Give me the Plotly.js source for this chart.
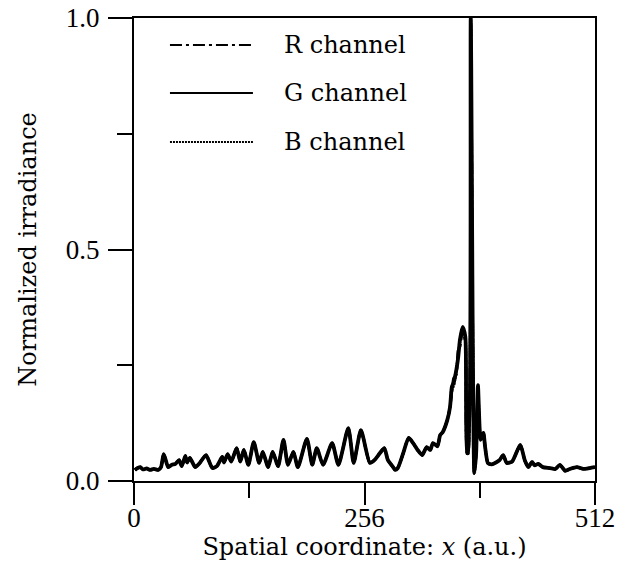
<!DOCTYPE html>
<html>
<head>
<meta charset="utf-8">
<script src="https://cdn.plot.ly/plotly-3.0.1.min.js"></script>
<style>
  html, body { margin: 0; padding: 0; background: #fff; }
  #chart { width: 633px; height: 571px; }
</style>
</head>
<body>
<div id="chart"></div>
<script>
// Spatial coordinate (a.u.) of each sample along the profile
const xCoord = [
  1, 4, 7, 10, 14, 18, 22, 27, 30, 33, 38, 42, 46, 50, 53, 57, 59, 62, 68, 73,
  80, 87, 92, 98, 100, 104, 108, 114, 118, 122, 127, 133, 139, 143, 149, 154, 160, 166, 171, 177,
  182, 192, 198, 203, 210, 220, 227, 238, 244, 252, 262, 267, 273, 278, 282, 287, 290, 293, 299, 305,
  310, 315, 320, 325, 329, 332, 337, 340, 343, 348, 351, 353, 355, 358, 360, 362, 365, 368, 370, 371,
  374, 378, 380, 382, 385, 388, 390, 393, 397, 401, 406, 410, 414, 420, 429, 434, 438, 442, 445, 449,
  454, 462, 468, 473, 479, 484, 492, 499, 506, 512
];

// Normalized irradiance per colour channel
const gValues = [
  0.024, 0.028, 0.030, 0.025, 0.027, 0.024, 0.026, 0.024, 0.030, 0.058, 0.030, 0.035, 0.037, 0.045, 0.032, 0.054, 0.040, 0.050, 0.030, 0.039,
  0.056, 0.028, 0.032, 0.052, 0.040, 0.058, 0.042, 0.071, 0.042, 0.067, 0.035, 0.084, 0.039, 0.063, 0.030, 0.063, 0.032, 0.089, 0.035, 0.063,
  0.030, 0.091, 0.035, 0.071, 0.035, 0.082, 0.035, 0.114, 0.039, 0.110, 0.039, 0.045, 0.060, 0.071, 0.045, 0.032, 0.024, 0.028, 0.060, 0.093,
  0.082, 0.067, 0.056, 0.073, 0.067, 0.082, 0.075, 0.099, 0.106, 0.132, 0.160, 0.203, 0.212, 0.240, 0.266, 0.305, 0.333, 0.311, 0.060, 0.060,
  1.000, 0.017, 0.060, 0.207, 0.089, 0.104, 0.073, 0.039, 0.036, 0.039, 0.045, 0.056, 0.039, 0.042, 0.078, 0.045, 0.030, 0.041, 0.034, 0.037,
  0.030, 0.028, 0.026, 0.035, 0.022, 0.026, 0.030, 0.026, 0.028, 0.030
];
const rValues = [
  0.024, 0.028, 0.030, 0.025, 0.027, 0.024, 0.026, 0.024, 0.030, 0.058, 0.030, 0.035, 0.037, 0.045, 0.032, 0.054, 0.040, 0.050, 0.030, 0.039,
  0.056, 0.028, 0.032, 0.052, 0.040, 0.058, 0.042, 0.071, 0.042, 0.067, 0.035, 0.084, 0.039, 0.063, 0.030, 0.063, 0.032, 0.089, 0.035, 0.063,
  0.030, 0.091, 0.035, 0.071, 0.035, 0.082, 0.035, 0.114, 0.039, 0.110, 0.039, 0.045, 0.060, 0.071, 0.045, 0.032, 0.024, 0.028, 0.060, 0.093,
  0.082, 0.067, 0.056, 0.073, 0.067, 0.082, 0.075, 0.099, 0.106, 0.132, 0.160, 0.190, 0.222, 0.230, 0.282, 0.290, 0.325, 0.300, 0.060, 0.060,
  1.000, 0.017, 0.060, 0.190, 0.100, 0.104, 0.073, 0.039, 0.036, 0.039, 0.045, 0.056, 0.039, 0.042, 0.078, 0.045, 0.030, 0.041, 0.034, 0.037,
  0.030, 0.028, 0.026, 0.035, 0.022, 0.026, 0.030, 0.026, 0.028, 0.030
];
const bValues = [
  0.024, 0.028, 0.030, 0.025, 0.027, 0.024, 0.026, 0.024, 0.030, 0.058, 0.030, 0.035, 0.037, 0.045, 0.032, 0.054, 0.040, 0.050, 0.030, 0.039,
  0.056, 0.028, 0.032, 0.052, 0.040, 0.058, 0.042, 0.071, 0.042, 0.067, 0.035, 0.084, 0.039, 0.063, 0.030, 0.063, 0.032, 0.089, 0.035, 0.063,
  0.030, 0.091, 0.035, 0.071, 0.035, 0.082, 0.035, 0.114, 0.039, 0.110, 0.039, 0.045, 0.060, 0.071, 0.045, 0.032, 0.024, 0.028, 0.060, 0.093,
  0.082, 0.067, 0.056, 0.073, 0.067, 0.082, 0.075, 0.099, 0.106, 0.132, 0.160, 0.200, 0.205, 0.240, 0.270, 0.300, 0.330, 0.311, 0.060, 0.060,
  1.000, 0.017, 0.060, 0.200, 0.092, 0.104, 0.073, 0.039, 0.036, 0.039, 0.045, 0.056, 0.039, 0.042, 0.078, 0.045, 0.030, 0.041, 0.034, 0.037,
  0.030, 0.028, 0.026, 0.035, 0.022, 0.026, 0.030, 0.026, 0.028, 0.030
];

const channelNames = ['R channel', 'G channel', 'B channel'];
const xTicks = [0, 256, 512];
const xTickText = ['0', '256', '512'];
const xMinorTicks = [128, 384];
const yTicks = [0, 0.5, 1];
const yTickText = ['0.0', '0.5', '1.0'];
const yMinorTicks = [0.25, 0.75];

const serif = '"DejaVu Serif", serif';
const tickFont = { family: '"Liberation Serif", serif', size: 27, color: '#000' };

const channelStyles = [
  { dash: '12px,4px,3px,4px', width: 2.8, legendWidth: 2 },
  { dash: 'solid', width: 3.8, legendWidth: 2.2 },
  { dash: '2px,1px', width: 2.8, legendWidth: 2 }
];
const channelSeries = [rValues, gValues, bValues];

const traces = channelSeries.map((vals, i) => ({
  type: 'scatter',
  mode: 'lines',
  name: channelNames[i],
  x: xCoord,
  y: vals,
  line: { color: '#000', width: channelStyles[i].width, dash: channelStyles[i].dash, shape: 'spline', smoothing: 0.6 },
  showlegend: false,
  hoverinfo: 'skip'
}));

// Legend drawn in paper space so the line samples can be long
const legendRows = [0.9417, 0.838, 0.7322];
const shapes = legendRows.map((yy, i) => ({
  type: 'line', xref: 'paper', yref: 'paper',
  x0: 0.078, x1: 0.258, y0: yy, y1: yy,
  line: { color: '#000', width: channelStyles[i].legendWidth, dash: channelStyles[i].dash }
}));
const annotations = legendRows.map((yy, i) => ({
  xref: 'paper', yref: 'paper', x: 0.321, y: yy,
  xanchor: 'left', yanchor: 'middle', showarrow: false,
  text: channelNames[i],
  font: { family: serif, size: 24, color: '#000' }
}));

const axisCommon = {
  showgrid: false, zeroline: false,
  showline: true, linecolor: '#000', linewidth: 2, mirror: true,
  ticks: 'outside', tickcolor: '#000', tickwidth: 2,
  tickfont: tickFont
};

const layout = {
  width: 633, height: 571,
  margin: { l: 134, r: 38, t: 18, b: 90 },
  paper_bgcolor: '#fff', plot_bgcolor: '#fff',
  xaxis: Object.assign({}, axisCommon, {
    range: [0, 512],
    tickmode: 'array', tickvals: xTicks, ticktext: xTickText,
    ticklen: 22, ticklabelstandoff: -10,
    minor: { tickmode: 'array', tickvals: xMinorTicks, ticks: 'outside', ticklen: 15, tickwidth: 2, tickcolor: '#000' },
    title: { text: 'Spatial coordinate: <i>x</i> (a.u.)', font: { family: serif, size: 24, color: '#000' }, standoff: 2 }
  }),
  yaxis: Object.assign({}, axisCommon, {
    range: [0, 1],
    tickmode: 'array', tickvals: yTicks, ticktext: yTickText,
    ticklen: 24, ticklabelstandoff: 3,
    minor: { tickmode: 'array', tickvals: yMinorTicks, ticks: 'outside', ticklen: 15, tickwidth: 2, tickcolor: '#000' },
    title: { text: 'Normalized irradiance', font: { family: serif, size: 24, color: '#000' }, standoff: 22 }
  }),
  shapes: shapes,
  annotations: annotations,
  showlegend: false
};

Plotly.newPlot('chart', traces, layout, { staticPlot: true, displayModeBar: false });
</script>
</body>
</html>
